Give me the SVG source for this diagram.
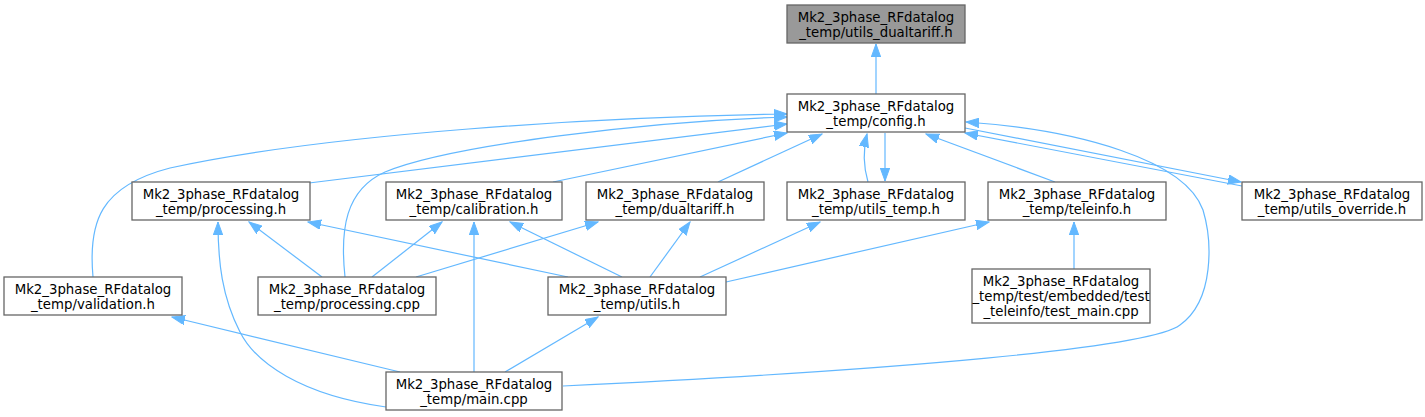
<svg xmlns="http://www.w3.org/2000/svg" width="1425" height="417" viewBox="0 0 1425 417">
<style>
.n rect{fill:#ffffff;stroke:#666666;stroke-width:1.3}
.n.root rect{fill:#999999}
.n text{font-family:"DejaVu Sans",sans-serif;font-size:13.3px;fill:#000000;text-anchor:middle}
.e path{fill:none;stroke:#63b8ff;stroke-width:1.2;marker-end:url(#ah)}
</style>
<defs>
<marker id="ah" markerUnits="userSpaceOnUse" markerWidth="14" markerHeight="10" refX="13" refY="4.7" orient="auto">
<path d="M0,0 L13,4.7 L0,9.4 z" fill="#63b8ff" stroke="#63b8ff" stroke-width="1"/>
</marker>
</defs>
<g id="edges" class="e">
<path d="M876,94 L876,44"/>
<path d="M309,183 L787,124"/>
<path d="M93,277 C88,222 100,186 170,168 C330,133 600,117 787,114"/>
<path d="M345,277 C340,230 345,190 385,172 C450,145 650,121 787,117"/>
<path d="M553,182 L787,133"/>
<path d="M718,182 L822,134"/>
<path d="M868,182 C863,165 863,150 867,134"/>
<path d="M885,133 L885,181"/>
<path d="M1055,182 L926,134"/>
<path d="M1242,186 L965,133"/>
<path d="M965,128 L1241,182"/>
<path d="M563,386 C900,370 1150,348 1180,325 C1215,300 1212,240 1203,210 C1185,160 1080,130 966,122"/>
<path d="M322,277 L249,222"/>
<path d="M568,277 L308,222"/>
<path d="M386,407 C300,395 255,362 240,332 C222,297 218,262 218,222"/>
<path d="M372,277 L442,222"/>
<path d="M474,372 L474,222"/>
<path d="M622,277 L510,222"/>
<path d="M416,277 L598,222"/>
<path d="M650,277 L690,222"/>
<path d="M700,277 L820,222"/>
<path d="M726,282 L989,222"/>
<path d="M1074,269 L1074,222"/>
<path d="M400,372 L172,317"/>
<path d="M505,372 L598,317"/>
</g>
<g id="utils_dualtariff_top" class="n root"><rect x="787" y="5" width="178" height="38"/><text x="876" y="22">Mk2_3phase_RFdatalog</text><text x="876" y="37">_temp/utils_dualtariff.h</text></g>
<g id="config" class="n"><rect x="787" y="94" width="178" height="38"/><text x="876" y="111">Mk2_3phase_RFdatalog</text><text x="876" y="126">_temp/config.h</text></g>
<g id="processing_h" class="n"><rect x="132" y="182" width="178" height="38"/><text x="221" y="199">Mk2_3phase_RFdatalog</text><text x="221" y="214">_temp/processing.h</text></g>
<g id="calibration_h" class="n"><rect x="386" y="182" width="176" height="38"/><text x="474" y="199">Mk2_3phase_RFdatalog</text><text x="474" y="214">_temp/calibration.h</text></g>
<g id="dualtariff_h" class="n"><rect x="586" y="182" width="178" height="38"/><text x="675" y="199">Mk2_3phase_RFdatalog</text><text x="675" y="214">_temp/dualtariff.h</text></g>
<g id="utils_temp_h" class="n"><rect x="787" y="182" width="178" height="38"/><text x="876" y="199">Mk2_3phase_RFdatalog</text><text x="876" y="214">_temp/utils_temp.h</text></g>
<g id="teleinfo_h" class="n"><rect x="988" y="182" width="178" height="38"/><text x="1077" y="199">Mk2_3phase_RFdatalog</text><text x="1077" y="214">_temp/teleinfo.h</text></g>
<g id="utils_override_h" class="n"><rect x="1242" y="182" width="180" height="38"/><text x="1332" y="199">Mk2_3phase_RFdatalog</text><text x="1332" y="214">_temp/utils_override.h</text></g>
<g id="validation_h" class="n"><rect x="4" y="277" width="178" height="38"/><text x="93" y="294">Mk2_3phase_RFdatalog</text><text x="93" y="309">_temp/validation.h</text></g>
<g id="processing_cpp" class="n"><rect x="258" y="277" width="178" height="38"/><text x="347" y="294">Mk2_3phase_RFdatalog</text><text x="347" y="309">_temp/processing.cpp</text></g>
<g id="utils_h" class="n"><rect x="548" y="277" width="178" height="38"/><text x="637" y="294">Mk2_3phase_RFdatalog</text><text x="637" y="309">_temp/utils.h</text></g>
<g id="test_main_cpp" class="n"><rect x="972" y="269" width="178" height="54"/><text x="1061" y="286">Mk2_3phase_RFdatalog</text><text x="1061" y="301">_temp/test/embedded/test</text><text x="1061" y="316">_teleinfo/test_main.cpp</text></g>
<g id="main_cpp" class="n"><rect x="386" y="372" width="176" height="38"/><text x="474" y="389">Mk2_3phase_RFdatalog</text><text x="474" y="404">_temp/main.cpp</text></g>
</svg>
